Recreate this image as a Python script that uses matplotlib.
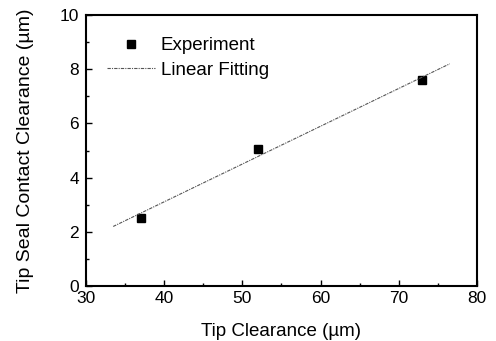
import matplotlib
matplotlib.use("Agg")
import numpy as np
from matplotlib import pyplot as plt
from matplotlib.ticker import MultipleLocator

plt.rcParams['font.family'] = ['Liberation Sans', 'DejaVu Sans']

# experiment points
exp_x = [37, 52, 73]
exp_y = [2.5, 5.05, 7.6]

# linear fitting line endpoints
fit_x = [33.5, 76.5]
fit_y = [2.2, 8.2]

fig = plt.figure(figsize=(4.96, 3.41), dpi=100)
ax = fig.add_axes([0.173, 0.161, 0.789, 0.795])

ax.plot(exp_x, exp_y, 's', color='black', markersize=6, label='Experiment')
ax.plot(fit_x, fit_y, linestyle=(0, (3, 1, 1, 1)), color='#555555', lw=0.8,
        label='Linear Fitting')

ax.set_xlim(30, 80)
ax.set_ylim(0, 10)
ax.xaxis.set_major_locator(MultipleLocator(10))
ax.xaxis.set_minor_locator(MultipleLocator(5))
ax.yaxis.set_major_locator(MultipleLocator(2))
ax.yaxis.set_minor_locator(MultipleLocator(1))
ax.tick_params(which='both', direction='in', width=1.0, labelsize=12.5)
ax.tick_params(axis='x', pad=3.5)
ax.tick_params(axis='y', pad=5)
ax.tick_params(which='major', length=4)
ax.tick_params(which='minor', length=2.5)
for s in ax.spines.values():
    s.set_linewidth(1.5)

ax.set_xlabel('Tip Clearance (\u00b5m)', fontsize=13.5, labelpad=12)
ax.set_ylabel('Tip Seal Contact Clearance (\u00b5m)', fontsize=14, labelpad=18)

ax.legend(loc='upper left', bbox_to_anchor=(0.01, 0.98), frameon=False,
          fontsize=13.5, handlelength=2.6, handletextpad=0.3, labelspacing=0.4)

fig.savefig('out.png', dpi=100)
